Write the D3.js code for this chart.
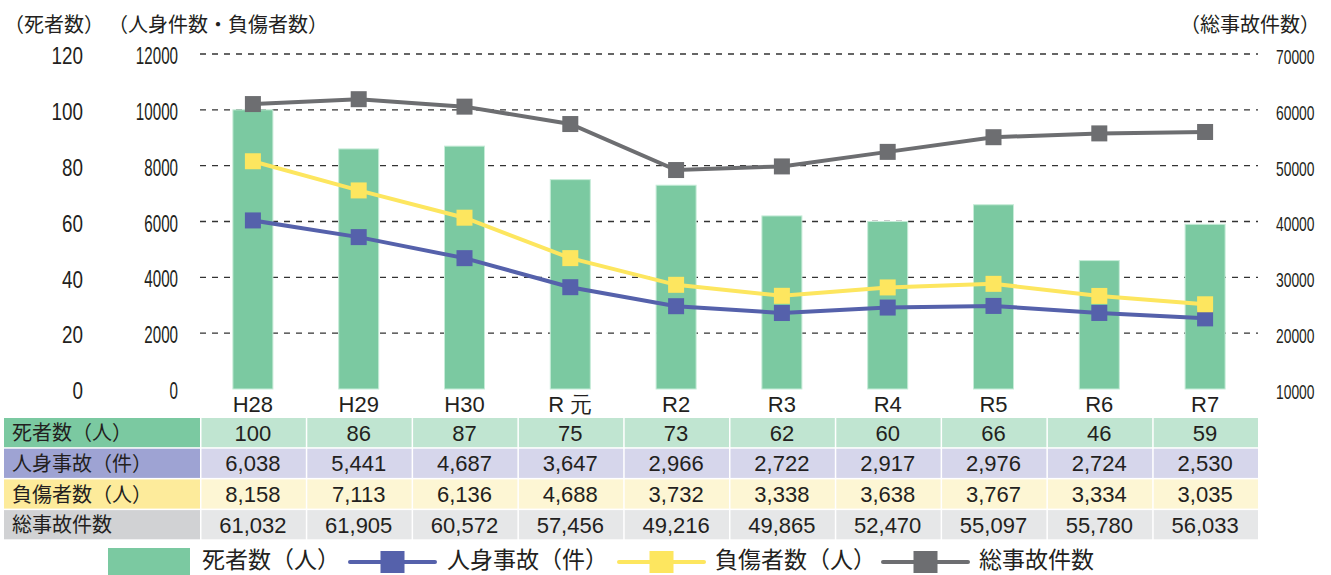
<!doctype html>
<html>
<head>
<meta charset="UTF-8">
<title>交通事故の推移</title>
<script src="https://d3js.org/d3.v7.min.js"></script>
<style>
    body { margin: 0; background: #fff; }
    .jp { font-family: "Noto Sans CJK JP", sans-serif; }
    .tick-l { font-family: "Liberation Sans", Arial, sans-serif; }
    .num { font-family: "Liberation Sans", Arial, sans-serif; }
</style>
</head>
<body>
<script>
// data
var years = ['H28', 'H29', 'H30', 'R 元', 'R2', 'R3', 'R4', 'R5', 'R6', 'R7'];
var deaths = [100, 86, 87, 75, 73, 62, 60, 66, 46, 59];
var jinshin = [6038, 5441, 4687, 3647, 2966, 2722, 2917, 2976, 2724, 2530];
var fushou = [8158, 7113, 6136, 4688, 3732, 3338, 3638, 3767, 3334, 3035];
var souJiko = [61032, 61905, 60572, 57456, 49216, 49865, 52470, 55097, 55780, 56033];
var deathTicks = [0, 20, 40, 60, 80, 100, 120];
var personTicks = [0, 2000, 4000, 6000, 8000, 10000, 12000];
var totalTicks = [10000, 20000, 30000, 40000, 50000, 60000, 70000];

var W = 1331, H = 575;
var green = '#7bc9a1', blue = '#5561ab', yellow = '#fde65f', grey = '#6d6e71';

var svg = d3.select('body').append('svg').attr('width', W).attr('height', H);

var x = d3.scaleBand().domain(years).range([200, 1258]);
var yTop = 54, yBot = 389;
var yDeath = d3.scaleLinear().domain([0, 120]).range([yBot, yTop]);
var yPerson = d3.scaleLinear().domain([0, 12000]).range([yBot, yTop]);
var yTotal = d3.scaleLinear().domain([10000, 70000]).range([yBot, yTop]);

// axis titles
svg.append('text').attr('class', 'jp').attr('x', 4).attr('y', 32).attr('font-size', 20).attr('fill', '#231f20').text('（死者数）');
svg.append('text').attr('class', 'jp').attr('x', 108).attr('y', 32).attr('font-size', 20).attr('fill', '#231f20').text('（人身件数・負傷者数）');
svg.append('text').attr('class', 'jp').attr('x', 1320).attr('y', 32).attr('text-anchor', 'end').attr('font-size', 20).attr('fill', '#231f20').text('（総事故件数）');

// dashed grid
svg.append('g').selectAll('line').data(personTicks.slice(1)).enter().append('line')
    .attr('x1', 200).attr('x2', 1258)
    .attr('y1', function(d) { return yPerson(d); }).attr('y2', function(d) { return yPerson(d); })
    .attr('stroke', '#333').attr('stroke-width', 1.3).attr('stroke-dasharray', '6,6');

// axes (labels narrowed to look like the condensed face of the original)
var axD = svg.append('g').attr('transform', 'translate(83,0)')
    .call(d3.axisLeft(yDeath).tickValues(deathTicks).tickSize(0).tickPadding(0));
var axP = svg.append('g').attr('transform', 'translate(178,0)')
    .call(d3.axisLeft(yPerson).tickValues(personTicks).tickSize(0).tickPadding(0).tickFormat(d3.format('d')));
var axT = svg.append('g').attr('transform', 'translate(1276,0)')
    .call(d3.axisRight(yTotal).tickValues(totalTicks).tickSize(0).tickPadding(0).tickFormat(d3.format('d')));
[axD, axP, axT].forEach(function(a) {
    a.select('.domain').remove();
    a.selectAll('text').attr('class', 'tick-l').attr('fill', '#231f20').attr('x', 0);
});
axD.selectAll('text').attr('font-size', 23).attr('dy', '0.42em').attr('transform', 'scale(0.82,1)');
axP.selectAll('text').attr('font-size', 23).attr('dy', '0.42em').attr('transform', 'scale(0.66,1)');
axT.selectAll('text').attr('font-size', 21).attr('dy', '0.45em').attr('transform', 'scale(0.66,1)');

// bars
svg.append('g').selectAll('rect').data(deaths).enter().append('rect')
    .attr('x', function(d, i) { return x(years[i]) + x.bandwidth() / 2 - 20; })
    .attr('y', function(d) { return yDeath(d); })
    .attr('width', 40)
    .attr('height', function(d) { return yBot - yDeath(d); })
    .attr('fill', green).attr('stroke', '#c6ecd8').attr('stroke-width', 1);

// x labels
svg.append('g').selectAll('text').data(years).enter().append('text')
    .attr('class', 'num')
    .attr('x', function(d) { return x(d) + x.bandwidth() / 2; })
    .attr('y', 412).attr('text-anchor', 'middle').attr('font-size', 22).attr('fill', '#231f20')
    .text(function(d) { return d; });

// lines
function drawLine(vals, yScale, color) {
    var cx = function(d, i) { return x(years[i]) + x.bandwidth() / 2; };
    var line = d3.line().x(cx).y(function(d) { return yScale(d); });
    var g = svg.append('g');
    g.append('path').datum(vals).attr('d', line)
        .attr('fill', 'none').attr('stroke', color).attr('stroke-width', 4);
    g.selectAll('rect').data(vals).enter().append('rect')
        .attr('x', function(d, i) { return cx(d, i) - 8; })
        .attr('y', function(d) { return yScale(d) - 8; })
        .attr('width', 16).attr('height', 16).attr('fill', color);
}
drawLine(jinshin, yPerson, blue);
drawLine(fushou, yPerson, yellow);
drawLine(souJiko, yTotal, grey);

// data table
var rows = [
    { label: '死者数（人）', vals: deaths, head: green, cell: '#c0e5d1', fmt: d3.format('d') },
    { label: '人身事故（件）', vals: jinshin, head: '#9ea3d3', cell: '#d6d6eb', fmt: d3.format(',') },
    { label: '負傷者数（人）', vals: fushou, head: '#fdeb9b', cell: '#fdf6d4', fmt: d3.format(',') },
    { label: '総事故件数', vals: souJiko, head: '#d1d2d4', cell: '#e6e7e8', fmt: d3.format(',') }
];
var rowTop = 418, rowH = 30.7;
rows.forEach(function(r, k) {
    var ty = rowTop + k * rowH;
    var g = svg.append('g');
    g.append('rect').attr('x', 4).attr('y', ty).attr('width', 196).attr('height', rowH - 1.5).attr('fill', r.head);
    g.append('text').attr('class', 'jp').attr('x', 12).attr('y', ty + rowH / 2).attr('dy', '0.35em')
        .attr('font-size', 20).attr('fill', '#231f20').text(r.label);
    g.selectAll('rect.cell').data(r.vals).enter().append('rect').attr('class', 'cell')
        .attr('x', function(d, i) { return x(years[i]) + 1.5; })
        .attr('y', ty).attr('width', x.bandwidth() - 1.5).attr('height', rowH - 1.5).attr('fill', r.cell);
    g.selectAll('text.v').data(r.vals).enter().append('text').attr('class', 'v num')
        .attr('x', function(d, i) { return x(years[i]) + x.bandwidth() / 2; })
        .attr('y', ty + rowH / 2 - 0.5).attr('dy', '0.36em').attr('text-anchor', 'middle')
        .attr('font-size', 22).attr('fill', '#231f20').text(function(d) { return r.fmt(d); });
});

// legend
var ly = 560;
var lg = svg.append('g');
lg.append('rect').attr('x', 108).attr('y', 548).attr('width', 82).attr('height', 27).attr('fill', green);
lg.append('text').attr('class', 'jp').attr('x', 202).attr('y', ly).attr('dy', '0.35em').attr('font-size', 23).attr('fill', '#231f20').text('死者数（人）');
var legLines = [
    { x0: 350, x1: 435, color: blue, label: '人身事故（件）', tx: 447 },
    { x0: 619, x1: 704, color: yellow, label: '負傷者数（人）', tx: 715 },
    { x0: 883, x1: 968, color: grey, label: '総事故件数', tx: 979 }
];
legLines.forEach(function(l) {
    lg.append('line').attr('x1', l.x0).attr('x2', l.x1).attr('y1', ly + 2).attr('y2', ly + 2)
        .attr('stroke', l.color).attr('stroke-width', 4).attr('stroke-linecap', 'round');
    lg.append('rect').attr('x', (l.x0 + l.x1) / 2 - 12).attr('y', ly - 9).attr('width', 24).attr('height', 22).attr('fill', l.color);
    lg.append('text').attr('class', 'jp').attr('x', l.tx).attr('y', ly).attr('dy', '0.35em').attr('font-size', 23).attr('fill', '#231f20').text(l.label);
});
</script>
</body>
</html>
